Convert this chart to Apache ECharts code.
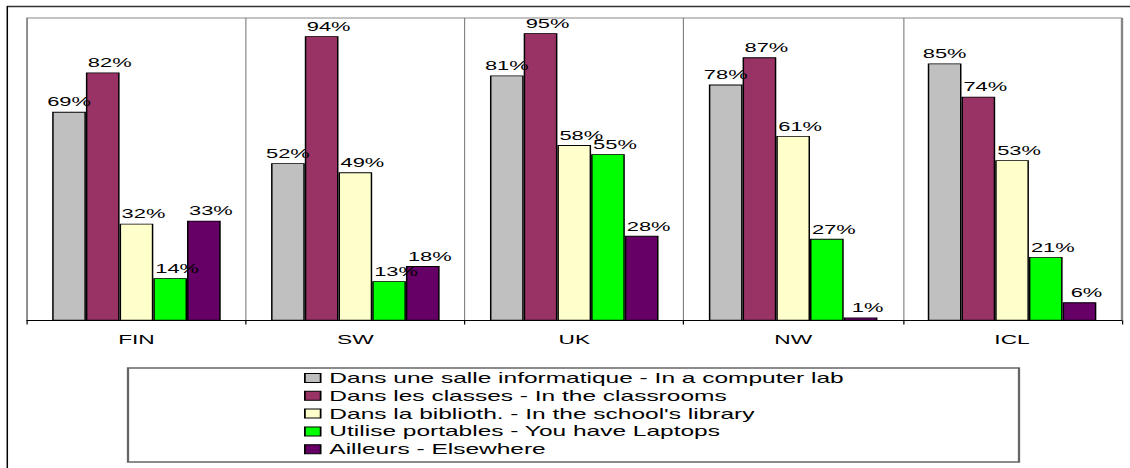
<!DOCTYPE html>
<html>
<head>
<meta charset="utf-8">
<script src="https://cdn.jsdelivr.net/npm/echarts@6/dist/echarts.min.js"></script>
<style>
  html, body { margin: 0; padding: 0; background: #fff; overflow: hidden; }
  #wrap { width: 1130px; height: 468px; position: relative; overflow: hidden; }
  #chart { position: absolute; left: 0; top: 0; height: 468px; transform-origin: 0 0; }
</style>
</head>
<body>
<div id="wrap"><div id="chart"></div></div>
<script>
// ---- data ----
const categories = ['FIN', 'SW', 'UK', 'NW', 'ICL'];
const seriesNames = [
  'Dans une salle informatique - In a computer lab',
  'Dans les classes - In the classrooms',
  'Dans la biblioth. - In the school\'s library',
  'Utilise portables - You have Laptops',
  'Ailleurs - Elsewhere'
];
const computerLab = [69, 52, 81, 78, 85];
const classrooms  = [82, 94, 95, 87, 74];
const library     = [32, 49, 58, 61, 53];
const laptops     = [14, 13, 55, 27, 21];
const elsewhere   = [33, 18, 28, 1, 6];
const colors = ['#C0C0C0', '#993366', '#FFFFCC', '#00FF00', '#660066'];

// ---- layout (the original chart is horizontally stretched) ----
const S = 1.75;
const W = 1130 / S;
const el = document.getElementById('chart');
el.style.width = W + 'px';
el.style.transform = 'scaleX(' + S + ')';

const FONT = '"Liberation Sans", Arial, sans-serif';
const allData = [computerLab, classrooms, library, laptops, elsewhere];

const chart = echarts.init(el, null, { renderer: 'svg' });
chart.setOption({
  animation: false,
  backgroundColor: '#fff',
  grid: {
    left: 27 / S, right: W - 1121 / S, top: 18, height: 302.5,
    show: true, borderColor: '#888', borderWidth: 0.8, backgroundColor: 'transparent'
  },
  xAxis: {
    type: 'category',
    data: categories,
    axisLine: { lineStyle: { color: '#000', width: 1 } },
    axisTick: { show: true, length: 4, lineStyle: { color: '#000', width: 0.7 } },
    splitLine: { show: true, lineStyle: { color: '#777', width: 0.6 } },
    axisLabel: { color: '#000', fontSize: 13, fontFamily: FONT, margin: 12 }
  },
  yAxis: { type: 'value', min: 0, max: 100, show: false },
  legend: {
    orient: 'vertical',
    left: 304 / S,
    top: 371,
    padding: 0,
    itemWidth: 9,
    itemHeight: 9,
    itemGap: 3.8,
    icon: 'rect',
    itemStyle: { borderColor: '#000', borderWidth: 1 },
    textStyle: { color: '#000', fontSize: 14, fontFamily: FONT, lineHeight: 14 },
    data: seriesNames
  },
  graphic: [
    { type: 'line', shape: { x1: 7 / S, y1: 6.5, x2: W, y2: 6.5 }, style: { stroke: '#333', lineWidth: 1.5 }, silent: true },
    { type: 'line', shape: { x1: 7.3 / S, y1: 6, x2: 7.3 / S, y2: 468 }, style: { stroke: '#000', lineWidth: 1.5 / S }, silent: true },
    { type: 'rect', shape: { x: 128 / S, y: 368, width: (1019 - 128) / S, height: 94 }, style: { fill: 'none', stroke: '#666', lineWidth: 1.3 }, silent: true }
  ],
  series: seriesNames.map((name, i) => ({
    name: name,
    type: 'bar',
    data: allData[i],
    barGap: '0%',
    barCategoryGap: '23%',
    itemStyle: { color: colors[i], borderColor: '#000', borderWidth: 0.85 },
    label: {
      show: true,
      position: 'top',
      distance: 3,
      offset: [i === 0 ? 0 : 7 / S, 0],
      formatter: '{c}%',
      color: '#000',
      fontSize: 12.5,
      fontFamily: FONT
    }
  }))
});
</script>
</body>
</html>
